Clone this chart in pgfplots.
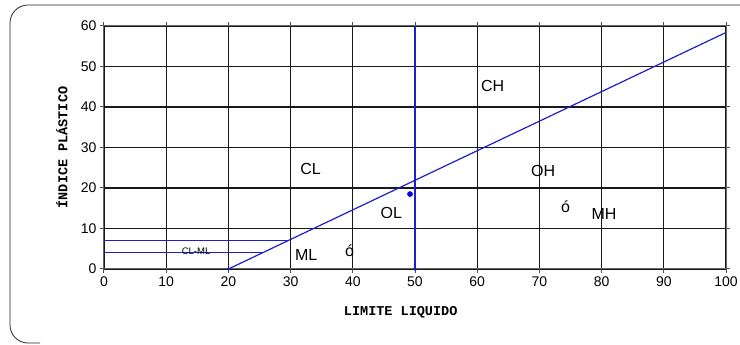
\documentclass[border=0pt]{standalone}
\usepackage{pgfplots}
\pgfplotsset{compat=1.18}
\usepackage{fontspec}
\setmainfont{Liberation Sans}
\newfontfamily\monob{Liberation Mono}
\definecolor{aline}{RGB}{30,30,205}
\definecolor{dotblue}{RGB}{0,0,225}

\begin{document}
\begin{tikzpicture}[x=1pt,y=1pt]
\useasboundingbox (0,0) rectangle (740,345);
\draw[black!85, line width=0.8pt, rounded corners=18pt] (741,340) -- (10,340) -- (10,2) -- (40,2);
\begin{axis}[
  at={(104pt,76pt)}, anchor=south west,
  scale only axis, width=622pt, height=243pt,
  xmin=0, xmax=100, ymin=0, ymax=60,
  xtick={0,10,...,100}, ytick={0,10,...,60},
  grid=major,
  major grid style={black!90, line width=1.1pt},
  axis line style={black!60, line width=1pt},
  tick align=outside, major tick length=4pt,
  tick style={black!70, line width=1pt},
  ticklabel style={font=\fontsize{14}{16}\selectfont},
  /pgf/number format/assume math mode=true,
  xlabel={LIMITE LIQUIDO},
  ylabel={ÍNDICE PLÁSTICO},
  xlabel style={font=\monob\bfseries\fontsize{13.5}{15}\selectfont, at={(axis description cs:0.477,-0.177)}, anchor=center},
  ylabel style={font=\monob\bfseries\fontsize{13.5}{15}\selectfont, at={(axis description cs:-0.068,0.5)}, anchor=center},
  clip=false,
]
% A-line
\addplot[aline, line width=1.2pt] coordinates {(20,0) (100,58.4)};
% vertical line at LL = 50
\addplot[aline, line width=1.4pt] coordinates {(50,0) (50,60)};
% CL-ML band
\addplot[aline, line width=1.1pt] coordinates {(0,7) (29.6,7)};
\addplot[aline, line width=1.1pt] coordinates {(0,4) (25.5,4)};
\addplot[aline, only marks, mark=*, mark size=1.5pt] coordinates {(20,0) (50,0)};
\addplot[dotblue, only marks, mark=*, mark size=2.6pt] coordinates {(49.2,18.5)};
\begin{scope}[every node/.style={font=\fontsize{16}{18}\selectfont, inner sep=0pt}]
\node at (axis cs:33.2,24.8) {CL};
\node at (axis cs:62.5,45.2) {CH};
\node at (axis cs:70.6,24.2) {OH};
\node at (axis cs:46.2,13.9) {OL};
\node at (axis cs:80.4,13.5) {MH};
\node at (axis cs:32.5,3.5) {ML};
\node at (axis cs:39.5,4.5) {ó};
\node at (axis cs:74.2,15.3) {ó};
\end{scope}
\node[font=\fontsize{9.5}{10}\selectfont, inner sep=0pt] at (axis cs:14.8,4.4) {CL-ML};
\end{axis}
\end{tikzpicture}
\end{document}
